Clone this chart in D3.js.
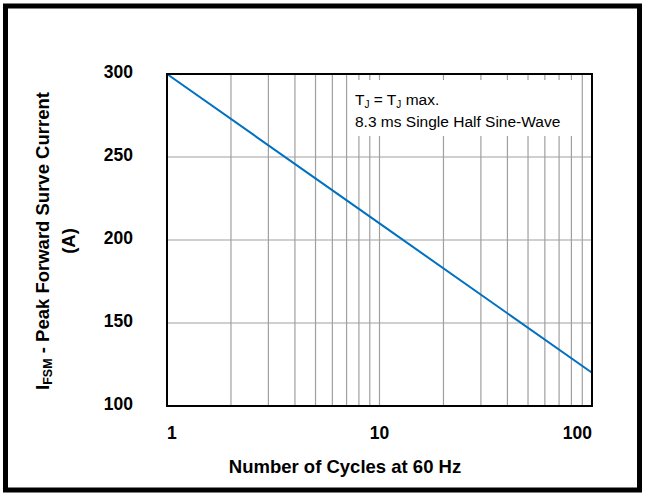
<!DOCTYPE html>
<html lang="en">
<head>
    <meta charset="UTF-8">
    <title>Peak Forward Surge Current</title>
    <script src="https://d3js.org/d3.v7.min.js"></script>
    <style>
        body {background:#fff; margin:0}
        svg {display:block}
        text {font-family: "Liberation Sans", Arial, sans-serif;}
    </style>
</head>
<body>
<svg id="chart" width="645" height="496"></svg>

<script>
// values
var cycles = [1, 10, 100];
var current = [300, 210, 120];
var yTicks = [100, 150, 200, 250, 300];
var xTicks = [1, 10, 100];
var xGrid = [2, 3, 4, 5, 6, 7, 8, 9, 10, 20, 30, 40, 50, 60, 70, 80, 90];
var yGrid = [150, 200, 250];
var legendLines = ["8.3 ms Single Half Sine-Wave"];

var svg = d3.select('#chart');

// outer frame
svg.append("rect")
    .attr("x", 5.5).attr("y", 6)
    .attr("width", 634).attr("height", 484)
    .attr("fill", "none")
    .attr("stroke", "#000")
    .attr("stroke-width", 5);

// plot box (don't call it "top", that's window.top)
var pLeft = 167, pRight = 592, pTop = 74, pBottom = 406;

var x = d3.scaleLog().domain([1, 100]).range([pLeft, pRight]);
var y = d3.scaleLinear().domain([100, 300]).range([pBottom, pTop]);

// grid
svg.append("g").selectAll("line")
    .data(xGrid)
    .enter()
    .append("line")
    .attr("x1", function(d){ return x(d); })
    .attr("x2", function(d){ return x(d); })
    .attr("y1", pTop).attr("y2", pBottom)
    .attr("stroke", "#a0a0a0").attr("stroke-width", 1.2);

svg.append("g").selectAll("line")
    .data(yGrid)
    .enter()
    .append("line")
    .attr("x1", pLeft).attr("x2", pRight)
    .attr("y1", function(d){ return y(d); })
    .attr("y2", function(d){ return y(d); })
    .attr("stroke", "#a0a0a0").attr("stroke-width", 1.2);

// legend box hides the grid behind it
svg.append("rect")
    .attr("x", 348).attr("y", 80)
    .attr("width", 231).attr("height", 56)
    .attr("fill", "#fff");

var lg = svg.append("text")
    .attr("x", 355).attr("y", 105)
    .attr("font-size", 15.5).attr("fill", "#000");
lg.append("tspan").text("T");
lg.append("tspan").attr("font-size", 10).attr("dy", 3).text("J");
lg.append("tspan").attr("dy", -3).text(" = T");
lg.append("tspan").attr("font-size", 10).attr("dy", 3).text("J");
lg.append("tspan").attr("dy", -3).text(" max.");

svg.selectAll(".legend2")
    .data(legendLines)
    .enter()
    .append("text")
    .attr("class", "legend2")
    .attr("x", 355).attr("y", 127)
    .attr("font-size", 15.5)
    .text(function(d){ return d; });

// the curve
var line = d3.line()
    .x(function(d, i){ return x(cycles[i]); })
    .y(function(d){ return y(d); });

svg.append("path")
    .datum(current)
    .attr("d", line)
    .attr("fill", "none")
    .attr("stroke", "#0070c0")
    .attr("stroke-width", 2);

// plot frame
svg.append("rect")
    .attr("x", pLeft).attr("y", pTop)
    .attr("width", pRight - pLeft).attr("height", pBottom - pTop)
    .attr("fill", "none")
    .attr("stroke", "#000")
    .attr("stroke-width", 2);

// tick labels
svg.append("g").selectAll("text")
    .data(yTicks)
    .enter()
    .append("text")
    .attr("x", 133)
    .attr("y", function(d){ return y(d) + 4; })
    .attr("text-anchor", "end")
    .attr("font-size", 17.5).attr("font-weight", "bold")
    .text(function(d){ return d; });

svg.append("g").selectAll("text")
    .data(xTicks)
    .enter()
    .append("text")
    .attr("x", function(d){ return x(d); })
    .attr("y", 439)
    .attr("text-anchor", function(d, i){
        return i == 0 ? "start" : (i == xTicks.length - 1 ? "end" : "middle");
    })
    .attr("font-size", 17.5).attr("font-weight", "bold")
    .text(function(d){ return d; });

// axis titles
svg.append("text")
    .attr("x", 345).attr("y", 473)
    .attr("text-anchor", "middle")
    .attr("font-size", 18.5).attr("font-weight", "bold")
    .text("Number of Cycles at 60 Hz");

var yt = svg.append("text")
    .attr("transform", "translate(49,241) rotate(-90)")
    .attr("text-anchor", "middle")
    .attr("font-size", 18.5).attr("font-weight", "bold");
yt.append("tspan").text("I");
yt.append("tspan").attr("font-size", 12.5).attr("dy", 3).text("FSM");
yt.append("tspan").attr("dy", -3).text(" - Peak Forward Surve Current");

svg.append("text")
    .attr("transform", "translate(75,241) rotate(-90)")
    .attr("text-anchor", "middle")
    .attr("font-size", 18.5).attr("font-weight", "bold")
    .text("(A)");
</script>
</body>
</html>
